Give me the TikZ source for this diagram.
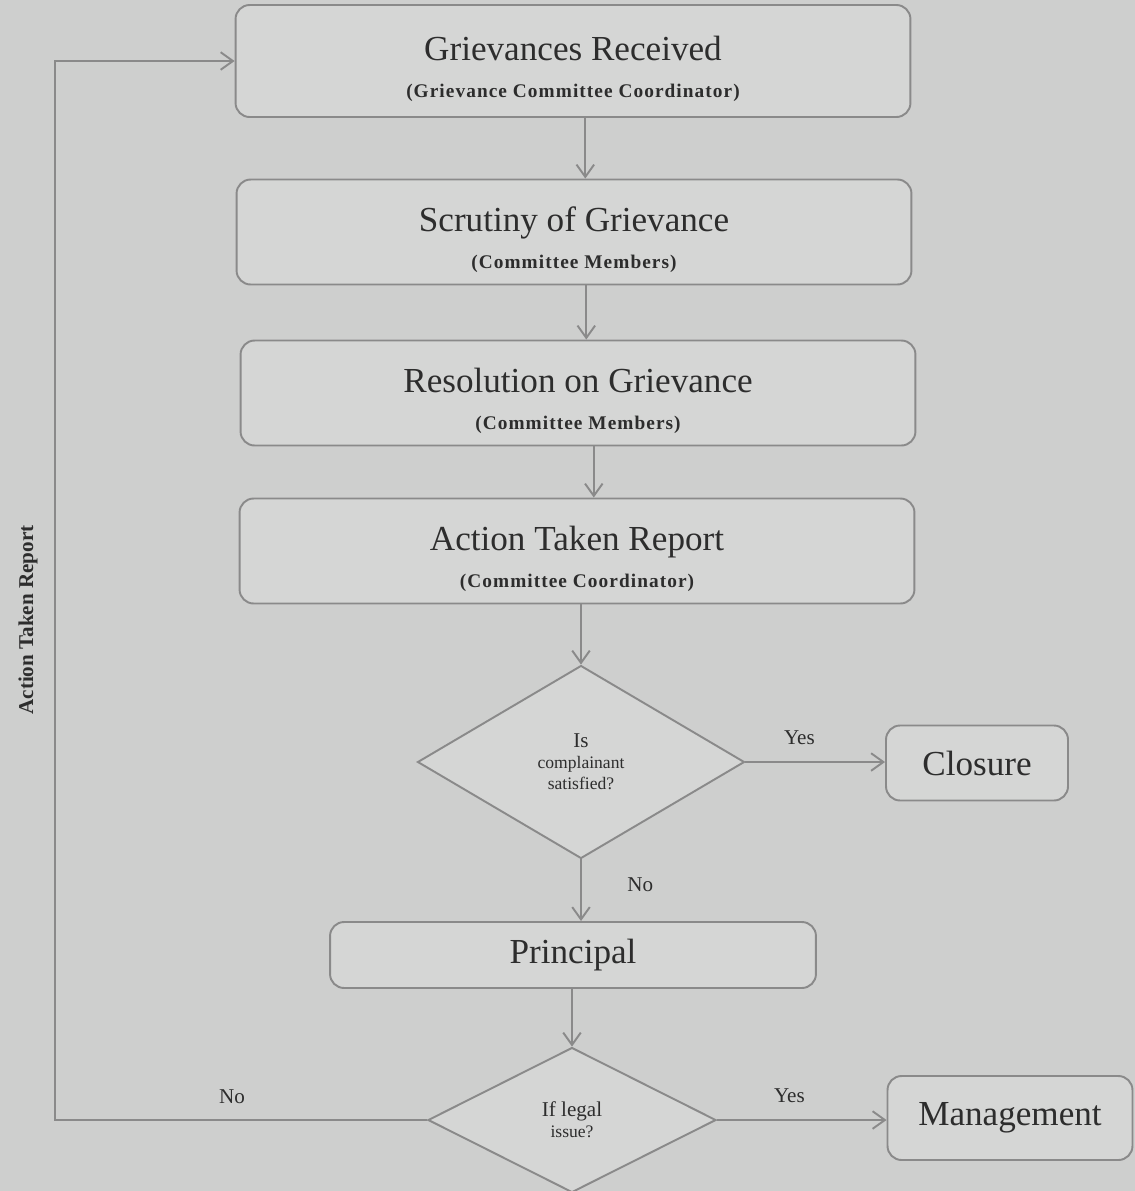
\documentclass[tikz,border=0pt]{standalone}
\usepackage{fontspec}
\setmainfont{Liberation Serif}
\usepackage{xcolor}
\usetikzlibrary{positioning, shapes.geometric, arrows.meta}

\definecolor{paper}{RGB}{206,207,206}
\definecolor{boxfill}{RGB}{213,214,213}
\definecolor{edge}{RGB}{138,138,138}
\definecolor{ink}{RGB}{45,45,45}

% title line and role line of a stage box
\newcommand{\stagetext}[2]{\rule{0pt}{23pt}{\fontsize{20}{24}\selectfont #1}\\[9pt]{\fontsize{11}{12}\selectfont\bfseries\addfontfeature{LetterSpace=5.5}(#2)}}

\begin{document}
\begin{tikzpicture}[x=0.02cm, y=-0.02cm,
  boxnode/.style={rectangle, rounded corners=8pt, draw=edge, fill=boxfill, line width=1.1pt, text=ink, align=center},
  stagenode/.style={boxnode, minimum width=13.5cm, minimum height=2.1cm},
  decnode/.style={diamond, draw=edge, fill=boxfill, line width=1.1pt, text=ink, align=center, inner sep=0pt},
  arr/.style={draw=edge, line width=1.1pt, -{Straight Barb[length=7pt, width=10pt]}},
  lbl/.style={text=ink, font=\fontsize{12}{14}\selectfont}]

\fill[paper] (0,0) rectangle (1135,1191);
\useasboundingbox (0,0) rectangle (1135,1191);

% main column
\node[stagenode, minimum height=2.24cm] at (573, 61) (grv) {\stagetext{Grievances Received}{Grievance Committee Coordinator}};
\node[stagenode] at (574, 232) (scr) {\stagetext{Scrutiny of Grievance}{Committee Members}};
\node[stagenode] at (578, 393) (res) {\stagetext{Resolution on Grievance}{Committee Members}};
\node[stagenode] at (577, 551) (atr) {\stagetext{Action Taken Report}{Committee Coordinator}};

% decisions
\node[decnode, minimum width=6.54cm, minimum height=3.86cm] at (581, 762) (sat) {\fontsize{12}{13}\selectfont Is\\ complainant\\ satisfied?};
\node[boxnode, minimum width=3.64cm, minimum height=1.5cm] at (977, 763) (clo) {\fontsize{20}{24}\selectfont Closure};
\node[boxnode, minimum width=9.72cm, minimum height=1.32cm] at (573, 955) (prn) {\fontsize{20}{24}\selectfont Principal};
\node[decnode, minimum width=5.76cm, minimum height=2.9cm] at (572, 1120) (leg) {\fontsize{12}{13}\selectfont If legal\\ issue?};
\node[boxnode, minimum width=4.9cm, minimum height=1.68cm] at (1010, 1118) (mgt) {\fontsize{20}{24}\selectfont Management};

\coordinate (loop) at (55, 0);

% connectors
\draw[arr] ([xshift=7pt]grv.south) -- ([xshift=7pt]grv.south |- scr.north);
\draw[arr] ([xshift=7pt]scr.south) -- ([xshift=7pt]scr.south |- res.north);
\draw[arr] ([xshift=9pt]res.south) -- ([xshift=9pt]res.south |- atr.north);
\draw[arr] (sat.north |- atr.south) -- (sat.north);
\draw[arr] (sat.south) -- (sat.south |- prn.north) node[lbl, midway, right=22.5pt, yshift=3pt] {No};
\draw[arr] (sat.east) -- (sat.east -| clo.west) node[lbl, midway, above=6pt, xshift=-9pt] {Yes};
\draw[arr] (leg.north |- prn.south) -- (leg.north);
\draw[arr] (leg.east) -- (leg.east -| mgt.west) node[lbl, midway, above=6pt, xshift=-7pt] {Yes};
\draw[arr] (leg.west) -| (loop |- grv.west) -- (grv.west);
\node[lbl] at (232, 1097) (no2) {No};
\node[lbl, font=\fontsize{12}{14}\selectfont\bfseries, rotate=90] at (28, 620) (atrlbl) {Action Taken Report};

\end{tikzpicture}
\end{document}
